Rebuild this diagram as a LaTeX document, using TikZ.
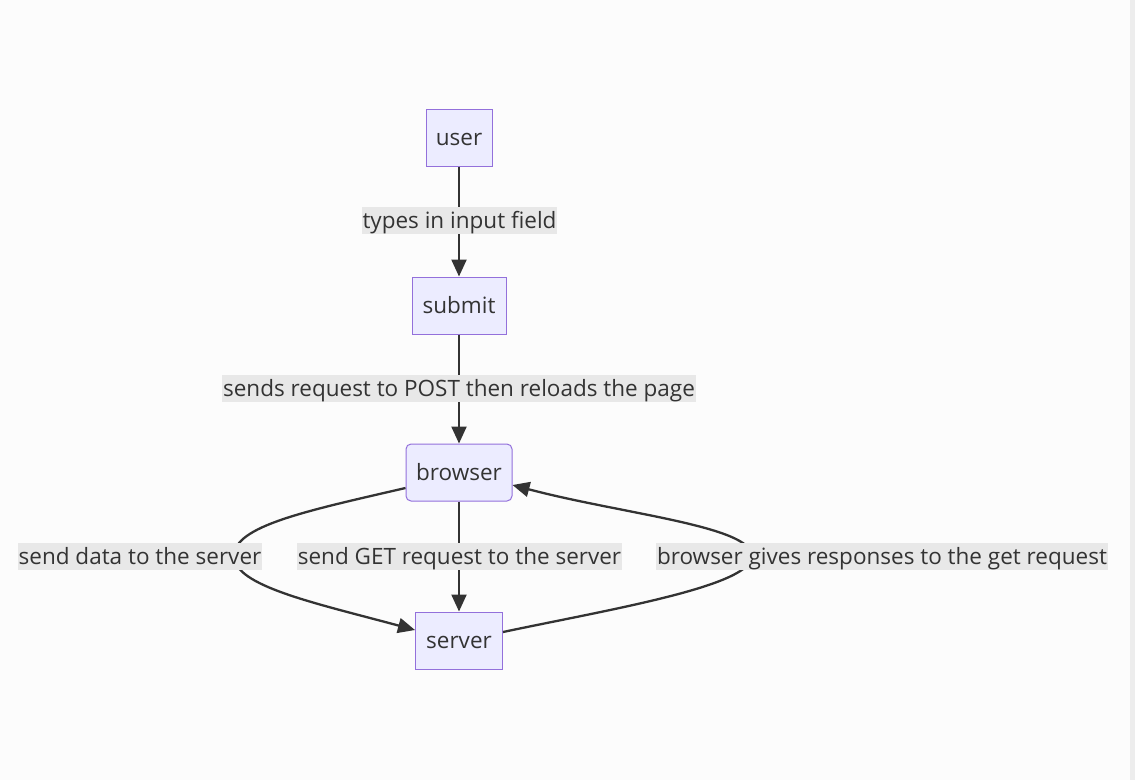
\documentclass[tikz,border=0pt]{standalone}
\usepackage{fontspec}
\setmainfont{Open Sans}
\usetikzlibrary{arrows.meta}
\definecolor{nodefill}{HTML}{ECECFF}
\definecolor{nodeline}{HTML}{9370DB}
\definecolor{ink}{HTML}{333333}
\definecolor{lblbg}{HTML}{E8E8E8}
\definecolor{pagebg}{HTML}{FCFCFC}
\definecolor{stripbg}{HTML}{EDEDED}
\tikzset{
  box/.style={draw=nodeline, fill=nodefill, line width=1pt, text=ink,
    font=\fontsize{22.5}{26}\selectfont, inner sep=0pt, text height=18pt, text depth=3pt, anchor=center},
  lbl/.style={fill=lblbg, text=ink, font=\fontsize{22.5}{26}\selectfont,
    inner xsep=1pt, inner ysep=3pt, text height=18.5pt, text depth=2.5pt, anchor=center},
  arr/.style={draw=ink, line width=2.3pt, -{Triangle[length=17pt,width=15pt]}},
}
\begin{document}
\begin{tikzpicture}[x=1pt,y=-1pt]
\useasboundingbox (0,0) rectangle (1135,780);
\fill[pagebg] (0,0) rectangle (1135,780);
\fill[stripbg] (1130,0) rectangle (1135,780);
% nodes
\node[box, minimum width=66pt, minimum height=57pt] (user) at (459,137.5) {user};
\node[box, minimum width=94pt, minimum height=57pt] (submit) at (459,305.5) {submit};
\node[box, rounded corners=5pt, minimum width=106pt, minimum height=57pt] (browser) at (459,472.5) {browser};
\node[box, minimum width=87pt, minimum height=57pt] (server) at (459,640.5) {server};
\coordinate (lc) at (234,556);
\coordinate (rc) at (752,556);
% edges
\draw[arr] (user) -- (submit);
\draw[arr] (submit) -- (browser);
\draw[arr] (browser) -- (server);
\draw[arr] ([yshift=-15.5pt]browser.west) .. controls (306,511) and (234,526) .. (lc)
  .. controls (234,586) and (315,603) .. ([yshift=10.5pt]server.west);
\draw[arr] ([yshift=8.5pt]server.east) .. controls (612,609) and (752,586) .. (rc)
  .. controls (752,526) and (622,514) .. ([yshift=-12.5pt]browser.east);
% labels
\node[lbl] (l1) at (459.5,220.5) {types in input field};
\node[lbl] (l2) at (459,388.5) {sends request to POST then reloads the page};
\node[lbl] (l3) at (140,556.5) {send data to the server};
\node[lbl] (l4) at (459.5,556.5) {send GET request to the server};
\node[lbl] (l5) at (882,556.5) {browser gives responses to the get request};
\end{tikzpicture}
\end{document}
